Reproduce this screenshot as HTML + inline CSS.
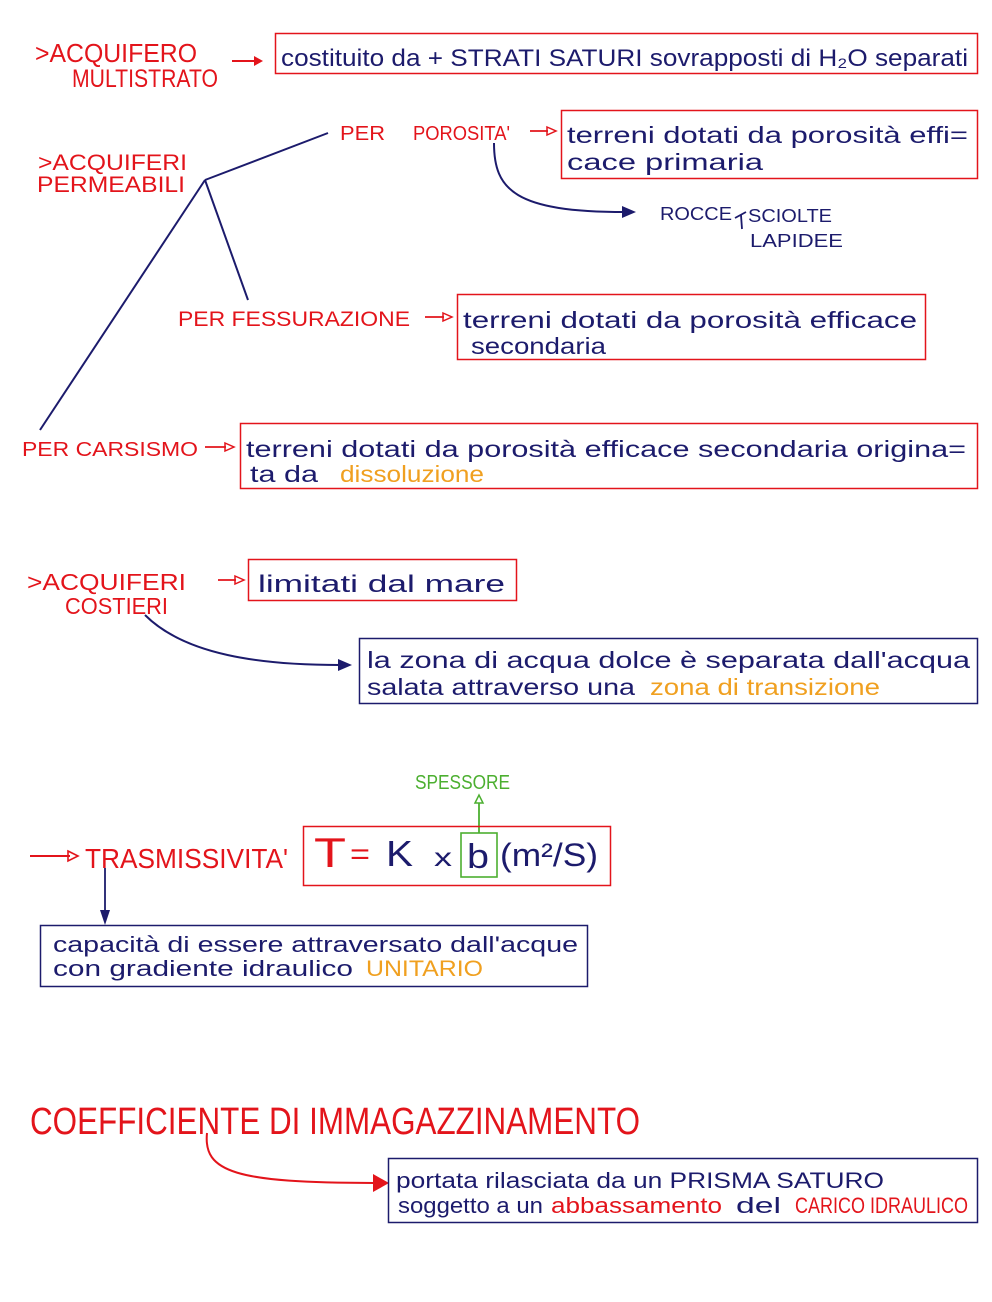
<!DOCTYPE html>
<html><head><meta charset="utf-8"><style>
html,body{margin:0;padding:0;background:#fff;}
svg{display:block;}
text{font-family:"Liberation Sans",sans-serif;}
.r{fill:#e3141b;}
.n{fill:#1c1b6c;}
.o{fill:#f0a020;}
.g{fill:#4caf30;}
</style></head><body>
<svg width="992" height="1302" viewBox="0 0 992 1302" xmlns="http://www.w3.org/2000/svg">
<rect width="992" height="1302" fill="#fff"/>

<!-- Section 1 -->
<text class="r" x="35" y="62" font-size="26" textLength="162" lengthAdjust="spacingAndGlyphs">&gt;ACQUIFERO</text>
<text class="r" x="72" y="87" font-size="25" textLength="146" lengthAdjust="spacingAndGlyphs">MULTISTRATO</text>
<line x1="232" y1="61" x2="256" y2="61" stroke="#e3141b" stroke-width="2"/>
<polygon points="254,56 263,61 254,66" fill="#e3141b"/>
<rect x="275.5" y="33.5" width="702" height="40" fill="none" stroke="#e3141b" stroke-width="1.5"/>
<text class="n" x="281" y="66" font-size="24" textLength="687" lengthAdjust="spacingAndGlyphs">costituito da + STRATI SATURI sovrapposti di H₂O separati</text>

<!-- Section 2 -->
<text class="r" x="38" y="170" font-size="22" textLength="149" lengthAdjust="spacingAndGlyphs">&gt;ACQUIFERI</text>
<text class="r" x="37" y="192" font-size="22" textLength="148" lengthAdjust="spacingAndGlyphs">PERMEABILI</text>
<g stroke="#1c1b6c" stroke-width="2" fill="none">
<line x1="205" y1="180" x2="328" y2="133"/>
<line x1="205" y1="180" x2="248" y2="300"/>
<line x1="205" y1="180" x2="40" y2="430"/>
</g>
<text class="r" x="340" y="140" font-size="20" textLength="45" lengthAdjust="spacingAndGlyphs">PER</text>
<text class="r" x="413" y="140" font-size="20" textLength="97" lengthAdjust="spacingAndGlyphs">POROSITA'</text>
<line x1="530" y1="131" x2="548" y2="131" stroke="#e3141b" stroke-width="1.8"/>
<polygon points="547,127 556,131 547,135" fill="none" stroke="#e3141b" stroke-width="1.5"/>
<rect x="561.5" y="110.5" width="416" height="68" fill="none" stroke="#e3141b" stroke-width="1.5"/>
<text class="n" x="567" y="143" font-size="23" textLength="401" lengthAdjust="spacingAndGlyphs">terreni dotati da porosità effi=</text>
<text class="n" x="567" y="170" font-size="23" textLength="196" lengthAdjust="spacingAndGlyphs">cace primaria</text>
<path d="M494,143 C494,190 515,212 625,212" fill="none" stroke="#1c1b6c" stroke-width="2"/>
<polygon points="622,206 636,212 622,218" fill="#1c1b6c"/>
<text class="n" x="660" y="220" font-size="18" textLength="72" lengthAdjust="spacingAndGlyphs">ROCCE</text>
<path d="M735,218 L746,212 M741,215 L742,229" fill="none" stroke="#1c1b6c" stroke-width="1.8"/>
<text class="n" x="748" y="222" font-size="18" textLength="84" lengthAdjust="spacingAndGlyphs">SCIOLTE</text>
<text class="n" x="750" y="247" font-size="18" textLength="93" lengthAdjust="spacingAndGlyphs">LAPIDEE</text>

<text class="r" x="178" y="326" font-size="21" textLength="232" lengthAdjust="spacingAndGlyphs">PER FESSURAZIONE</text>
<line x1="425" y1="317" x2="444" y2="317" stroke="#e3141b" stroke-width="1.8"/>
<polygon points="443,313 452,317 443,321" fill="none" stroke="#e3141b" stroke-width="1.5"/>
<rect x="457.5" y="294.5" width="468" height="65" fill="none" stroke="#e3141b" stroke-width="1.5"/>
<text class="n" x="463" y="328" font-size="23" textLength="454" lengthAdjust="spacingAndGlyphs">terreni dotati da porosità efficace</text>
<text class="n" x="471" y="354" font-size="23" textLength="135" lengthAdjust="spacingAndGlyphs">secondaria</text>

<text class="r" x="22" y="456" font-size="20" textLength="176" lengthAdjust="spacingAndGlyphs">PER CARSISMO</text>
<line x1="205" y1="447" x2="226" y2="447" stroke="#e3141b" stroke-width="1.8"/>
<polygon points="225,443 234,447 225,451" fill="none" stroke="#e3141b" stroke-width="1.5"/>
<rect x="240.5" y="423.5" width="737" height="65" fill="none" stroke="#e3141b" stroke-width="1.5"/>
<text class="n" x="246" y="457" font-size="23" textLength="720" lengthAdjust="spacingAndGlyphs">terreni dotati da porosità efficace secondaria origina=</text>
<text class="n" x="250" y="482" font-size="23" textLength="68" lengthAdjust="spacingAndGlyphs">ta da</text>
<text class="o" x="340" y="482" font-size="23" textLength="144" lengthAdjust="spacingAndGlyphs">dissoluzione</text>

<!-- Section 3 -->
<text class="r" x="27" y="590" font-size="23" textLength="159" lengthAdjust="spacingAndGlyphs">&gt;ACQUIFERI</text>
<text class="r" x="65" y="614" font-size="23" textLength="103" lengthAdjust="spacingAndGlyphs">COSTIERI</text>
<line x1="218" y1="580" x2="236" y2="580" stroke="#e3141b" stroke-width="1.8"/>
<polygon points="235,576 244,580 235,584" fill="none" stroke="#e3141b" stroke-width="1.5"/>
<rect x="248.5" y="559.5" width="268" height="41" fill="none" stroke="#e3141b" stroke-width="1.5"/>
<text class="n" x="258" y="592" font-size="24" textLength="247" lengthAdjust="spacingAndGlyphs">limitati dal mare</text>
<path d="M145,615 C185,655 260,665 340,665" fill="none" stroke="#1c1b6c" stroke-width="2"/>
<polygon points="338,659 352,665 338,671" fill="#1c1b6c"/>
<rect x="359.5" y="638.5" width="618" height="65" fill="none" stroke="#1c1b6c" stroke-width="1.5"/>
<text class="n" x="367" y="668" font-size="23" textLength="603" lengthAdjust="spacingAndGlyphs">la zona di acqua dolce è separata dall'acqua</text>
<text class="n" x="367" y="695" font-size="23" textLength="268" lengthAdjust="spacingAndGlyphs">salata attraverso una</text>
<text class="o" x="650" y="695" font-size="23" textLength="230" lengthAdjust="spacingAndGlyphs">zona di transizione</text>

<!-- Section 4 -->
<text class="g" x="415" y="789" font-size="20" textLength="95" lengthAdjust="spacingAndGlyphs">SPESSORE</text>
<line x1="479" y1="833" x2="479" y2="803" stroke="#4caf30" stroke-width="1.8"/>
<polygon points="475,803 479,795 483,803" fill="none" stroke="#4caf30" stroke-width="1.5"/>
<line x1="30" y1="856" x2="70" y2="856" stroke="#e3141b" stroke-width="2"/>
<polygon points="68,851 78,856 68,861" fill="none" stroke="#e3141b" stroke-width="1.6"/>
<text class="r" x="85" y="868" font-size="28" textLength="203" lengthAdjust="spacingAndGlyphs">TRASMISSIVITA'</text>
<rect x="303.5" y="826.5" width="307" height="59" fill="none" stroke="#e3141b" stroke-width="1.5"/>
<text class="r" x="314" y="867" font-size="42" textLength="32" lengthAdjust="spacingAndGlyphs">T</text>
<text class="r" x="350" y="864" font-size="30" textLength="20" lengthAdjust="spacingAndGlyphs">=</text>
<text class="n" x="386" y="866" font-size="36" textLength="27" lengthAdjust="spacingAndGlyphs">K</text>
<text class="n" x="434" y="866" font-size="26" textLength="18" lengthAdjust="spacingAndGlyphs">x</text>
<rect x="461" y="833" width="36" height="44" fill="none" stroke="#4caf30" stroke-width="1.6"/>
<text class="n" x="467" y="868" font-size="34" textLength="22" lengthAdjust="spacingAndGlyphs">b</text>
<text class="n" x="500" y="866" font-size="32" textLength="98" lengthAdjust="spacingAndGlyphs">(m²/S)</text>
<line x1="105" y1="868" x2="105" y2="912" stroke="#1c1b6c" stroke-width="1.8"/>
<polygon points="100,910 105,925 110,910" fill="#1c1b6c"/>
<rect x="40.5" y="925.5" width="547" height="61" fill="none" stroke="#1c1b6c" stroke-width="1.5"/>
<text class="n" x="53" y="952" font-size="22" textLength="525" lengthAdjust="spacingAndGlyphs">capacità di essere attraversato dall'acque</text>
<text class="n" x="53" y="976" font-size="22" textLength="300" lengthAdjust="spacingAndGlyphs">con gradiente idraulico</text>
<text class="o" x="366" y="976" font-size="22" textLength="117" lengthAdjust="spacingAndGlyphs">UNITARIO</text>

<!-- Section 5 -->
<text class="r" x="30" y="1134" font-size="38" textLength="610" lengthAdjust="spacingAndGlyphs">COEFFICIENTE DI IMMAGAZZINAMENTO</text>
<path d="M207,1133 C203,1172 235,1183 375,1183" fill="none" stroke="#e3141b" stroke-width="2"/>
<polygon points="373,1174 389,1183 373,1192" fill="#e3141b"/>
<rect x="388.5" y="1158.5" width="589" height="64" fill="none" stroke="#1c1b6c" stroke-width="1.5"/>
<text class="n" x="396" y="1188" font-size="22" textLength="488" lengthAdjust="spacingAndGlyphs">portata rilasciata da un PRISMA SATURO</text>
<text class="n" x="398" y="1213" font-size="22" textLength="145" lengthAdjust="spacingAndGlyphs">soggetto a un</text>
<text class="r" x="551" y="1213" font-size="22" textLength="171" lengthAdjust="spacingAndGlyphs">abbassamento</text>
<text class="n" x="736" y="1213" font-size="22" textLength="45" lengthAdjust="spacingAndGlyphs">del</text>
<text class="r" x="795" y="1213" font-size="22" textLength="173" lengthAdjust="spacingAndGlyphs">CARICO IDRAULICO</text>
</svg>
</body></html>
